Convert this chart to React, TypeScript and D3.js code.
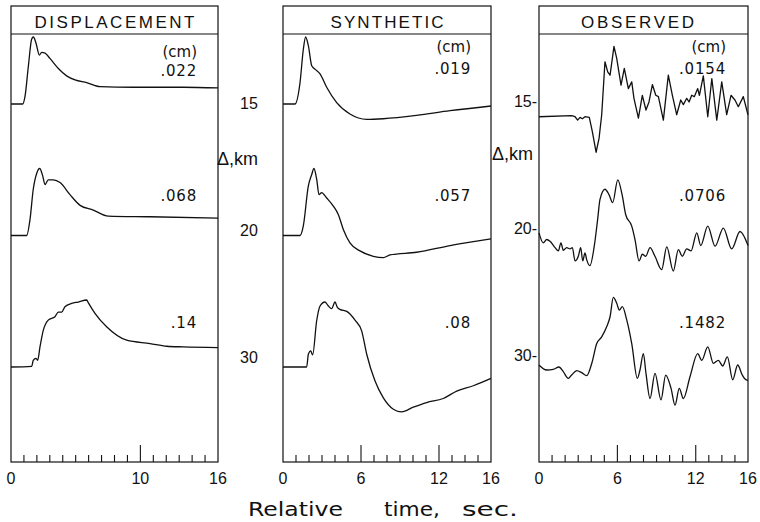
import React from "react";
import * as d3 from "d3";

// ---------- data ----------
const panelTitles = ["DISPLACEMENT", "SYNTHETIC", "OBSERVED"];
const distances = ["15", "20", "30"];
const distanceLabelsLeft = ["15", "20", "30"];
const distanceLabelsRight = ["15-", "20-", "30-"];
const distanceUnit = "Δ,km";
const ampUnit = "(cm)";
const peakAmps = [
  [".022", ".068", ".14"],
  [".019", ".057", ".08"],
  [".0154", ".0706", ".1482"],
];
const tickLabels = [
  [0, 10, 16],
  [0, 6, 12, 16],
  [0, 6, 12, 16],
];
const majorTicks = [[10], [6, 12], [6, 12]];
const minorTicks = d3.range(1, 16);
const xTitleWords = ["Relative", "time,", "sec."];

// traces: [time s, normalized displacement]
const disp15: [number, number][] = [[0,0],[0.9,0],[1.08,.11],[1.34,.56],[1.6,.97],[1.73,1.0],[1.93,.91],[2.19,.73],[2.37,.77],[2.63,.76],[3.01,.68],[3.66,.53],[4.3,.42],[4.95,.36],[5.85,.32],[6.88,.26],[9.43,.25],[13.3,.25],[16,.24]];
const disp20: [number, number][] = [[0,0],[1.21,0],[1.47,.24],[1.72,.69],[1.99,.93],[2.22,1.0],[2.45,.89],[2.63,.76],[2.88,.83],[3.27,.83],[3.79,.79],[4.56,.61],[5.34,.45],[6.36,.38],[7.52,.29],[10.75,.28],[16,.26]];
const disp30: [number, number][] = [[0,0],[1.6,.01],[1.72,.1],[1.93,.13],[2.06,.1],[2.24,.3],[2.5,.55],[2.88,.7],[3.4,.75],[3.66,.82],[3.92,.82],[4.17,.9],[4.69,.95],[5.2,.97],[5.85,1.0],[5.97,.96],[6.49,.8],[7.39,.6],[8.94,.4],[10.75,.35],[12.04,.31],[13.3,.3],[16,.29]];

const syn15: [number, number][] = [[0,0],[0.92,0],[1.31,.32],[1.56,.81],[1.74,1.0],[1.95,.87],[2.21,.57],[2.46,.52],[2.85,.45],[3.36,.25],[4.13,.02],[5.15,-.15],[6.44,-.23],[7.72,-.22],[10.28,-.17],[12.85,-.1],[16,-.03]];
const syn20: [number, number][] = [[0,0],[1.31,0],[1.56,.14],[1.95,.74],[2.21,.91],[2.38,1.0],[2.59,.84],[2.77,.61],[2.97,.64],[3.36,.56],[3.87,.44],[4.26,.31],[4.64,.09],[5.15,-.11],[5.92,-.23],[6.95,-.31],[7.72,-.33],[8.23,-.29],[10.28,-.25],[12.85,-.15],[16,-.05]];
const syn30: [number, number][] = [[0,0],[1.82,0],[1.95,.19],[2.13,.24],[2.28,.18],[2.59,.69],[2.85,.91],[3.23,.97],[3.49,.91],[3.74,.87],[4.0,.97],[4.18,.89],[4.38,.86],[4.9,.83],[5.54,.7],[6.05,.54],[6.44,.19],[7.08,-.21],[7.72,-.46],[8.49,-.63],[9.13,-.67],[10.02,-.6],[11.05,-.53],[12.33,-.47],[13.36,-.36],[14.64,-.28],[16,-.17]];

const obs15: [number, number][] = [[0,-.19],[2.5,-.175],[2.76,-.19],[2.96,-.24],[3.14,-.2],[3.32,-.22],[3.52,-.19],[3.85,-.2],[4.08,-.41],[4.37,-.72],[4.6,-.51],[4.8,-.16],[5.05,.63],[5.26,.48],[5.44,.43],[5.74,.86],[5.95,.68],[6.13,.46],[6.28,.28],[6.53,.53],[6.84,.23],[7.1,.33],[7.27,.085],[7.61,-.21],[7.91,.13],[8.19,-.09],[8.42,.03],[8.68,.29],[8.94,.13],[9.14,.11],[9.52,-.24],[9.9,.43],[10.21,.13],[10.54,-.16],[10.85,.06],[11.05,-.01],[11.31,.085],[11.49,.03],[11.69,.13],[11.89,.11],[12.15,.23],[12.28,.13],[12.58,.42],[12.92,-.19],[13.23,.38],[13.61,-.24],[13.99,.33],[14.37,-.16],[14.7,.13],[15,.06],[15.26,-.04],[15.64,.11],[16,-.16]];
const obs20: [number, number][] = [[0,.04],[0.33,-.11],[0.59,-.06],[0.84,-.085],[1.23,-.18],[1.48,-.23],[1.68,-.11],[1.86,-.22],[2.12,-.18],[2.37,-.2],[2.55,-.18],[2.76,-.38],[3.01,-.31],[3.19,-.18],[3.35,-.38],[3.52,-.26],[3.65,-.36],[3.9,-.45],[4.23,-.16],[4.49,.24],[4.67,.54],[5.05,.69],[5.36,.61],[5.64,.49],[6.03,.83],[6.38,.59],[6.64,.31],[7.1,.14],[7.35,-.06],[7.66,-.38],[7.91,-.28],[8.17,-.31],[8.5,-.18],[8.88,-.31],[9.39,-.51],[9.78,-.17],[10.28,-.53],[10.67,-.21],[10.97,-.31],[11.31,-.2],[11.64,-.23],[12.08,.04],[12.38,-.15],[12.92,.14],[13.48,-.16],[14.11,.11],[14.75,-.2],[15.39,.06],[16,-.15]];
const obs30: [number, number][] = [[0,.03],[0.59,-.045],[1.09,-.035],[1.53,0],[1.86,-.07],[2.24,-.17],[2.5,-.12],[2.89,-.055],[3.27,-.085],[3.65,-.13],[4.04,.055],[4.42,.35],[4.8,.45],[5.18,.6],[5.44,.75],[5.69,1.04],[5.95,.95],[6.15,.85],[6.38,.9],[6.72,.7],[7.1,.35],[7.53,-.17],[7.73,-.045],[7.99,.2],[8.19,-.095],[8.5,-.47],[8.88,-.095],[9.34,-.49],[9.7,-.12],[10.11,-.32],[10.41,-.57],[10.74,-.32],[11.05,-.47],[11.56,-.145],[12.15,.2],[12.46,.1],[12.92,.3],[13.35,.055],[13.73,.1],[14.06,.015],[14.42,.15],[14.83,-.19],[15.21,.03],[15.56,-.12],[15.77,-.18],[16,-.2]];

const traces = [
  [disp15, disp20, disp30],
  [syn15, syn20, syn30],
  [obs15, obs20, obs30],
];

// ---------- layout ----------
const W = 760;
const H = 522;
const panelLeft = [11, 283, 539];
const panelRight = [218, 491, 748];
const top = 6;
const headerBottom = 34;
const bottom = 462;
const font = "'Liberation Sans', Arial, sans-serif";
const wideFont = "'DejaVu Sans', 'Liberation Sans', sans-serif";
const ink = "#111";

const rowY = d3.scalePoint<string>().domain(distances).range([104, 367]);
const amp = d3.scaleLinear().domain([0, 1]).range([0, 67]);
const ampLabelY = d3.scalePoint<string>().domain(distances).range([74, 328]);
const distLabelY = d3.scalePoint<string>().domain(distances).range([109, 363]);

export default function App() {
  return (
    <svg
      width={W}
      height={H}
      viewBox={`0 0 ${W} ${H}`}
      style={{ position: "absolute", left: 0, top: 0, background: "#fff" }}
    >
      <rect x={0} y={0} width={W} height={H} fill="#fff" />
      {panelTitles.map((title, p) => {
        const x = d3.scaleLinear().domain([0, 16]).range([panelLeft[p], panelRight[p]]);
        return (
          <g key={title}>
            <rect
              x={panelLeft[p]}
              y={top}
              width={panelRight[p] - panelLeft[p]}
              height={bottom - top}
              fill="none"
              stroke={ink}
              strokeWidth={1.2}
            />
            <line x1={panelLeft[p]} x2={panelRight[p]} y1={headerBottom} y2={headerBottom} stroke={ink} strokeWidth={1.2} />
            <text
              x={(panelLeft[p] + panelRight[p]) / 2 - (p === 2 ? 6 : 0)}
              y={28}
              textAnchor="middle"
              fontFamily={font}
              fontSize={17}
              fill={ink}
              textLength={[160, 113, 113][p]}
              lengthAdjust="spacing"
            >
              {title}
            </text>
            {minorTicks.map((t) => {
              const major = majorTicks[p].includes(t);
              return (
                <line
                  key={t}
                  x1={x(t)}
                  x2={x(t)}
                  y1={bottom}
                  y2={bottom - (major ? 17 : 7)}
                  stroke={ink}
                  strokeWidth={1.1}
                />
              );
            })}
            {tickLabels[p].map((t) => (
              <text key={t} x={x(t)} y={484} textAnchor="middle" fontFamily={font} fontSize={16} fill={ink}>
                {t}
              </text>
            ))}
            <text x={[197, 471, 726][p]} y={p === 0 ? 57 : 52} textAnchor="end" fontFamily={wideFont} fontSize={15} fill={ink}>
              {ampUnit}
            </text>
            {distances.map((d, i) => (
              <text
                key={d}
                x={[197, 471, 726][p]}
                y={(ampLabelY(d) as number) + (i === 0 && p === 0 ? 2 : 0)}
                textAnchor="end"
                fontFamily={wideFont}
                fontSize={15}
                letterSpacing={0.8}
                fill={ink}
              >
                {peakAmps[p][i]}
              </text>
            ))}
            {traces[p].map((tr, i) => {
              const line = d3
                .line<[number, number]>()
                .x((d) => x(d[0]))
                .y((d) => (rowY(distances[i]) as number) - amp(d[1]))
                .curve(p === 2 && i === 0 ? d3.curveLinear : d3.curveMonotoneX);
              return (
                <path
                  key={i}
                  d={line(tr) || ""}
                  fill="none"
                  stroke={ink}
                  strokeWidth={1.3}
                  strokeLinejoin="round"
                />
              );
            })}
          </g>
        );
      })}
      {distances.map((d, i) => (
        <text key={"l" + d} x={249} y={distLabelY(d)} textAnchor="middle" fontFamily={font} fontSize={16} fill={ink}>
          {distanceLabelsLeft[i]}
        </text>
      ))}
      {distances.map((d, i) => (
        <text key={"r" + d} x={537} y={(distLabelY(d) as number) - 2} textAnchor="end" fontFamily={font} fontSize={16} fill={ink}>
          {distanceLabelsRight[i]}
        </text>
      ))}
      <text x={217} y={165} fontFamily={font} fontSize={18} fill={ink}>
        {distanceUnit}
      </text>
      <text x={492} y={160} fontFamily={font} fontSize={18} fill={ink}>
        {distanceUnit}
      </text>
      {xTitleWords.map((w, i) => (
        <text
          key={w}
          x={[248, 384, 462][i]}
          y={516}
          fontFamily={wideFont}
          fontSize={20}
          fill={ink}
          textLength={[95, 56, 56][i]}
          lengthAdjust="spacingAndGlyphs"
        >
          {w}
        </text>
      ))}
    </svg>
  );
}
